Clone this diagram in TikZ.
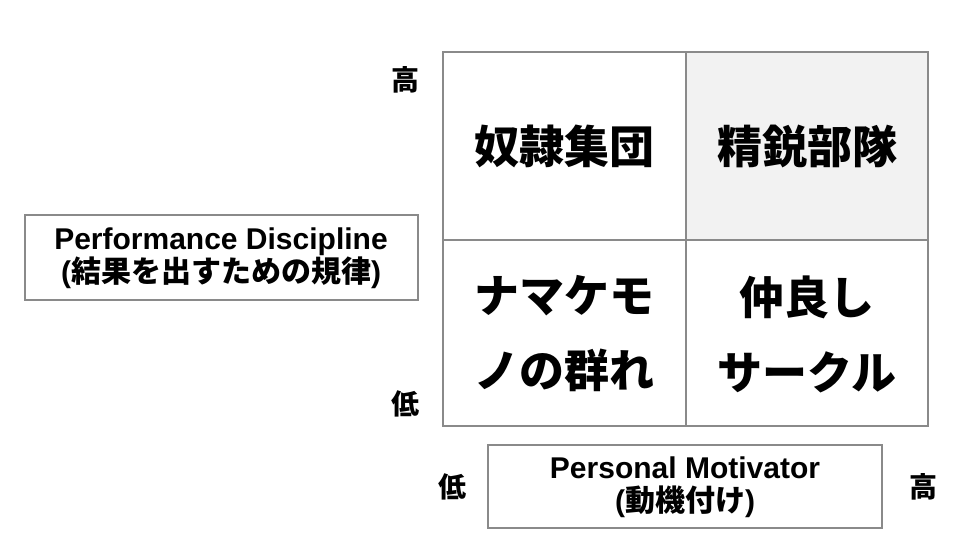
\documentclass[tikz,border=0pt]{standalone}
\usepackage{fontspec}
\setmainfont{Liberation Sans}
\newfontfamily\jp{Noto Sans CJK JP}
\definecolor{gridc}{HTML}{8A8A8A}
\definecolor{cellg}{HTML}{F2F2F2}
\begin{document}
\begin{tikzpicture}[x=1pt,y=-1pt,
  cell/.style={font=\jp\bfseries\fontsize{45}{75}\selectfont,align=center},
  lab/.style={font=\bfseries\fontsize{30}{33}\selectfont,align=center},
  ax/.style={font=\jp\bfseries\fontsize{28}{30}\selectfont},
  boxs/.style={draw=gridc,line width=1.2pt}]
\useasboundingbox (0,0) rectangle (968,543);
\fill[cellg] (686,52) rectangle (928,240);
\draw[gridc,line width=2.5pt] (443,52) rectangle (928,426);
\draw[gridc,line width=2.5pt] (686,52) -- (686,426);
\draw[gridc,line width=2.5pt] (443,240) -- (928,240);
\node[cell] (a) at (564,146) {奴隷集団};
\node[cell] (b) at (807,146) {精鋭部隊};
\node[cell] (c) at (564,334) {ナマケモ\\ノの群れ};
\node[cell] (d) at (807,334) {仲良し\\サークル};
\draw[boxs] (25,215) rectangle (418,300);
\node[lab] (l) at (221,258) {Performance Discipline\\({\jp 結果を出すための規律})};
\draw[boxs] (488,445) rectangle (882,528);
\node[lab] (m) at (685,487) {Personal Motivator\\({\jp 動機付け})};
\node[ax] (h1) at (405,80) {高};
\node[ax] (l1) at (405,404) {低};
\node[ax] (l2) at (452,487) {低};
\node[ax] (h2) at (923,487) {高};
\end{tikzpicture}
\end{document}
